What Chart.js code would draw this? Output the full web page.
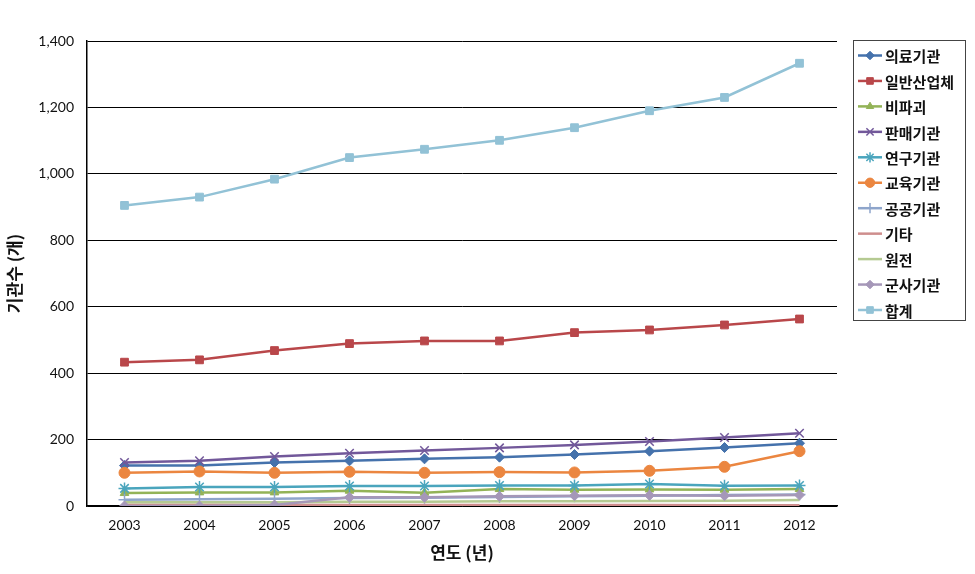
<!DOCTYPE html>
<html>
<head>
<meta charset="utf-8">
<script src="https://cdn.jsdelivr.net/npm/chart.js@4/dist/chart.umd.min.js"></script>
<style>
html,body{margin:0;padding:0;background:#fff;}
#wrap{width:975px;height:574px;position:relative;}
</style>
</head>
<body>
<div id="wrap"><canvas id="c" width="975" height="574"></canvas></div>
<script>
const years = ['2003','2004','2005','2006','2007','2008','2009','2010','2011','2012'];
const yTicks = [0, 200, 400, 600, 800, 1000, 1200, 1400];
const medical   = [122, 122, 131, 136, 142, 147, 155, 165, 176, 189];
const industry  = [433, 440, 468, 489, 497, 497, 522, 530, 545, 563];
const ndt       = [39, 41, 41, 46, 40, 51, 49, 50, 49, 51];
const sales     = [131, 136, 149, 159, 167, 175, 184, 194, 206, 219];
const research  = [53, 57, 57, 60, 60, 62, 62, 66, 61, 62];
const education = [100, 104, 100, 103, 100, 102, 101, 106, 118, 165];
const publicOrg = [19, 20, 22, 24, 25, 27, 29, 31, 33, 35];
const etc       = [4, 4, 4, 3, 3, 3, 3, 3, 2, 2];
const nuclear   = [11, 11, 11, 13, 13, 14, 14, 15, 16, 18];
const military  = [0, 0, 3, 26, 26, 29, 31, 32, 31, 33];
const total     = [905, 930, 984, 1049, 1074, 1101, 1139, 1190, 1230, 1333];

const seriesNames = ['의료기관','일반산업체','비파괴','판매기관','연구기관','교육기관','공공기관','기타','원전','군사기관','합계'];
const seriesData = [medical, industry, ndt, sales, research, education, publicOrg, etc, nuclear, military, total];
const colors = ['#4572AC','#B9474A','#93B357','#72589A','#4AA5BD','#EB8640','#8EA5CB','#CE8E8D','#B5CA92','#A597B8','#92C2D6'];
const styles = ['rectRot','rect','triangle','crossRot','star','circle','cross','circle','circle','rectRot','rect'];
const radii  = [5, 5.5, 5, 6, 6, 5.5, 6, 0, 0, 5, 5.5];

const datasets = seriesNames.map((n, i) => ({
  label: n,
  data: seriesData[i],
  borderColor: colors[i],
  backgroundColor: colors[i],
  pointBackgroundColor: colors[i],
  pointBorderColor: colors[i],
  pointStyle: styles[i],
  pointRadius: radii[i],
  pointHoverRadius: radii[i],
  pointBorderWidth: (styles[i]==='crossRot'||styles[i]==='star'||styles[i]==='cross') ? 1.5 : 1,
  borderWidth: 2.5,
  tension: 0,
  fill: false
})).reverse();

const legendPlugin = {
  id: 'boxLegend',
  afterDraw(chart) {
    const ctx = chart.ctx;
    const x0 = 853, y0 = 40, w = 112, h = 280;
    ctx.save();
    ctx.fillStyle = '#fff';
    ctx.fillRect(x0, y0, w, h);
    ctx.strokeStyle = '#444';
    ctx.lineWidth = 1;
    ctx.strokeRect(x0 + 0.5, y0 + 0.5, w, h);
    ctx.font = 'bold 15px "Noto Sans CJK KR", "Noto Sans", sans-serif';
    ctx.textBaseline = 'middle';
    ctx.textAlign = 'left';
    for (let i = 0; i < seriesNames.length; i++) {
      const y = 55.5 + i * 25.45;
      ctx.strokeStyle = colors[i];
      ctx.lineWidth = 2.5;
      ctx.beginPath();
      ctx.moveTo(858, y);
      ctx.lineTo(882, y);
      ctx.stroke();
      if (radii[i] > 0) {
        ctx.fillStyle = colors[i];
        ctx.strokeStyle = colors[i];
        ctx.lineWidth = (styles[i]==='crossRot'||styles[i]==='star'||styles[i]==='cross') ? 1.5 : 1;
        Chart.helpers.drawPoint(ctx, {pointStyle: styles[i], radius: radii[i] * 0.85, rotation: 0, borderWidth: ctx.lineWidth}, 870, y);
      }
      ctx.fillStyle = '#111';
      ctx.fillText(seriesNames[i], 885, y + 1);
    }
    ctx.restore();
  }
};

new Chart(document.getElementById('c'), {
  type: 'line',
  data: { labels: years, datasets },
  options: {
    responsive: false,
    animation: false,
    events: [],
    layout: { padding: { left: 0, right: 138, top: 41, bottom: 0 } },
    plugins: { legend: { display: false }, tooltip: { enabled: false } },
    scales: {
      x: {
        type: 'category',
        offset: true,
        grid: { display: false, drawTicks: false },
        border: { display: true, color: '#000', width: 1.5 },
        ticks: { color: '#111', padding: 11, font: { family: 'Lato, "Open Sans", sans-serif', size: 14 } },
        title: { display: true, text: '연도 (년)', color: '#111', padding: { top: 0, bottom: 11 },
                 font: { family: '"Noto Sans CJK KR", sans-serif', size: 17, weight: 'bold' } },
        afterFit(s) { s.height = 68; }
      },
      y: {
        min: 0, max: 1400,
        afterBuildTicks(s) { s.ticks = yTicks.map(v => ({ value: v })); },
        grid: { color: '#000', lineWidth: 1, drawTicks: false },
        border: { display: true, color: '#000', width: 1.5 },
        ticks: { color: '#111', padding: 13, font: { family: 'Lato, "Open Sans", sans-serif', size: 14 },
                 callback: v => v.toLocaleString('en-US') },
        title: { display: true, text: '기관수 (개)', color: '#111', padding: { top: 4, bottom: 0 },
                 font: { family: '"Noto Sans CJK KR", sans-serif', size: 17, weight: 'bold' } },
        afterFit(s) { s.width = 87; }
      }
    }
  },
  plugins: [legendPlugin]
});
</script>
</body>
</html>
